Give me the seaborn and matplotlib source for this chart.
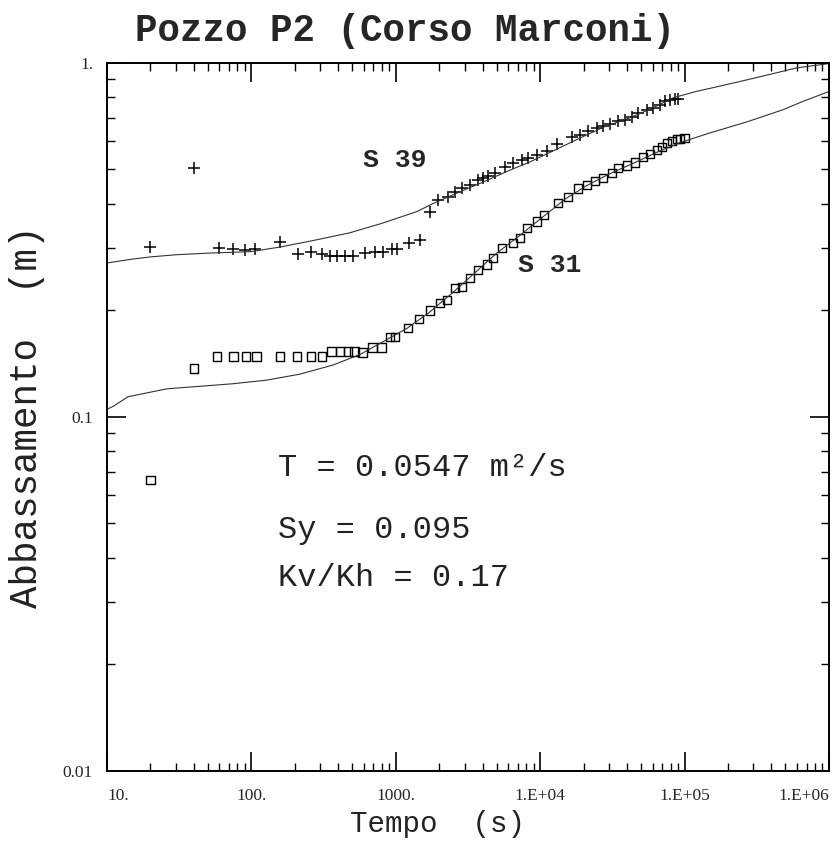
import numpy as np
import pandas as pd
import matplotlib
matplotlib.use("Agg")
import matplotlib.pyplot as plt
import matplotlib.ticker as mticker
import seaborn as sns

# S 39 measured drawdown (crosses)
s39_t = [20, 40, 60, 75, 90, 106, 158, 210, 259, 308, 350, 392, 445, 505, 612, 718, 815, 941,
         1020, 1234, 1472, 1727, 1968, 2312, 2570, 2860, 3264, 3727, 4036, 4372, 4865, 5706,
         6513, 7440, 8267, 9450, 11090, 13000, 16500, 18870, 21550, 24620, 27370, 30430,
         34750, 38650, 42980, 47780, 54590, 60700, 67500, 73100, 79200, 85800, 90000]
s39_y = [0.302, 0.505, 0.300, 0.298, 0.296, 0.298, 0.312, 0.288, 0.292, 0.288, 0.285, 0.285,
         0.285, 0.285, 0.290, 0.292, 0.292, 0.298, 0.298, 0.310, 0.316, 0.380, 0.410, 0.419,
         0.433, 0.443, 0.452, 0.467, 0.472, 0.480, 0.488, 0.509, 0.521, 0.532, 0.538, 0.550,
         0.562, 0.590, 0.619, 0.626, 0.640, 0.654, 0.664, 0.673, 0.683, 0.690, 0.705, 0.721,
         0.736, 0.745, 0.761, 0.778, 0.786, 0.789, 0.792]

# S 31 measured drawdown (squares)
s31_t = [20, 40, 58, 75, 92, 109, 158, 207, 259, 308, 360, 410, 467, 520, 590, 690, 800,
         910, 985, 1217, 1449, 1726, 2024, 2264, 2571, 2873, 3264, 3705, 4282, 4711, 5435,
         6480, 7244, 8105, 9500, 10620, 13280, 15590, 18270, 21090, 23970, 27230, 31420,
         34590, 39920, 45360, 51520, 57570, 64390, 69690, 75480, 81760, 88490, 92900, 100000]
s31_y = [0.0664, 0.137, 0.148, 0.148, 0.148, 0.148, 0.148, 0.148, 0.148, 0.148, 0.153,
         0.153, 0.153, 0.153, 0.152, 0.157, 0.157, 0.168, 0.168, 0.178, 0.189, 0.200, 0.210,
         0.214, 0.231, 0.233, 0.247, 0.260, 0.269, 0.281, 0.300, 0.310, 0.320, 0.342, 0.356,
         0.372, 0.402, 0.418, 0.441, 0.452, 0.464, 0.473, 0.489, 0.505, 0.512, 0.522, 0.542,
         0.553, 0.568, 0.579, 0.594, 0.602, 0.610, 0.610, 0.614]

# fitted curves
fit39_t = [10, 15, 20, 30, 50, 100, 160, 280, 480, 800, 1400, 1800, 3000, 4000, 6000, 8500,
           13000, 19000, 28000, 42000, 60000, 83000, 120000, 160000, 270000, 400000, 600000,
           1000000]
fit39_y = [0.272, 0.279, 0.283, 0.287, 0.290, 0.293, 0.302, 0.316, 0.331, 0.352, 0.380, 0.400,
           0.438, 0.460, 0.495, 0.525, 0.570, 0.614, 0.660, 0.700, 0.745, 0.796, 0.830, 0.852,
           0.895, 0.930, 0.968, 0.995]
fit31_t = [10, 11, 14, 26, 44, 74, 128, 216, 366, 565, 815, 1200, 1700, 2500, 3600, 5000,
           7000, 10000, 15000, 21000, 30000, 45000, 65000, 93000, 150000, 270000, 480000,
           650000, 1000000]
fit31_y = [0.105, 0.107, 0.114, 0.120, 0.122, 0.124, 0.127, 0.132, 0.140, 0.150, 0.163, 0.178,
           0.197, 0.225, 0.257, 0.290, 0.322, 0.362, 0.413, 0.450, 0.485, 0.522, 0.560, 0.595,
           0.634, 0.681, 0.737, 0.776, 0.830]

x_ticks = [10, 100, 1000, 1e4, 1e5, 1e6]
x_labels = ["10.", "100.", "1000.", "1.E+04", "1.E+05", "1.E+06"]
y_ticks = [0.01, 0.1, 1]
y_labels = ["0.01", "0.1", "1."]

sns.set_style("ticks")
plt.rcParams['font.family'] = ['Liberation Mono', 'DejaVu Sans']

fig = plt.figure(figsize=(8.39, 8.49), dpi=100)
ax = fig.add_axes([0.1275, 0.092, 0.8605, 0.834])

line_col = "#333333"
sns.lineplot(x=fit39_t, y=fit39_y, ax=ax, color=line_col, linewidth=0.8)
sns.lineplot(x=fit31_t, y=fit31_y, ax=ax, color=line_col, linewidth=0.8)
sns.scatterplot(x=s39_t, y=s39_y, ax=ax, marker="+", s=80, color="black", linewidth=1.1)
sns.scatterplot(x=s31_t, y=s31_y, ax=ax, marker="s", s=38, facecolor="none",
                edgecolor="black", linewidth=1.0)

ax.set_xscale("log")
ax.set_yscale("log")
ax.set_xlim(10, 1e6)
ax.set_ylim(0.01, 1)

ax.xaxis.set_major_locator(mticker.FixedLocator(x_ticks))
ax.xaxis.set_major_formatter(mticker.FixedFormatter(x_labels))
ax.yaxis.set_major_locator(mticker.FixedLocator(y_ticks))
ax.yaxis.set_major_formatter(mticker.FixedFormatter(y_labels))
ax.xaxis.set_minor_locator(mticker.LogLocator(base=10, subs=np.arange(2, 10)))
ax.yaxis.set_minor_locator(mticker.LogLocator(base=10, subs=np.arange(2, 10)))
ax.xaxis.set_minor_formatter(mticker.NullFormatter())
ax.yaxis.set_minor_formatter(mticker.NullFormatter())

ax.tick_params(which="both", direction="in", top=True, right=True, color="black")
ax.tick_params(which="major", length=14, width=1.2)
ax.tick_params(which="minor", length=6, width=1.0)
ax.tick_params(axis="x", which="major", pad=12)
ax.tick_params(axis="y", which="major", pad=10)
for lab in ax.get_xticklabels() + ax.get_yticklabels():
    lab.set_family("Liberation Serif")
    lab.set_fontsize(12.5)
ax.get_xticklabels()[-1].set_horizontalalignment("right")
ax.get_xticklabels()[0].set_horizontalalignment("left")
for sp in ax.spines.values():
    sp.set_linewidth(1.4)
    sp.set_color("black")

ax.set_xlabel("Tempo  (s)", fontsize=21, color="#222222")
ax.xaxis.set_label_coords(0.458, -0.055)
ax.set_ylabel("Abbassamento  (m)", fontsize=27, color="#222222")
ax.yaxis.set_label_coords(-0.086, 0.5)
fig.suptitle("Pozzo P2 (Corso Marconi)", fontsize=27, fontweight="bold", y=0.963, x=0.483,
             va="center")

ax.text(990, 0.532, "S 39", fontsize=19, fontweight="bold", ha="center", va="center")
ax.text(11700, 0.269, "S 31", fontsize=19, fontweight="bold", ha="center", va="center")
ax.text(153, 0.0718, "T = 0.0547 m\u00b2/s", fontsize=23, ha="left", va="center", color="#222222")
ax.text(153, 0.048, "Sy = 0.095", fontsize=23, ha="left", va="center", color="#222222")
ax.text(153, 0.0351, "Kv/Kh = 0.17", fontsize=23, ha="left", va="center", color="#222222")

fig.savefig("out.png", dpi=100)
